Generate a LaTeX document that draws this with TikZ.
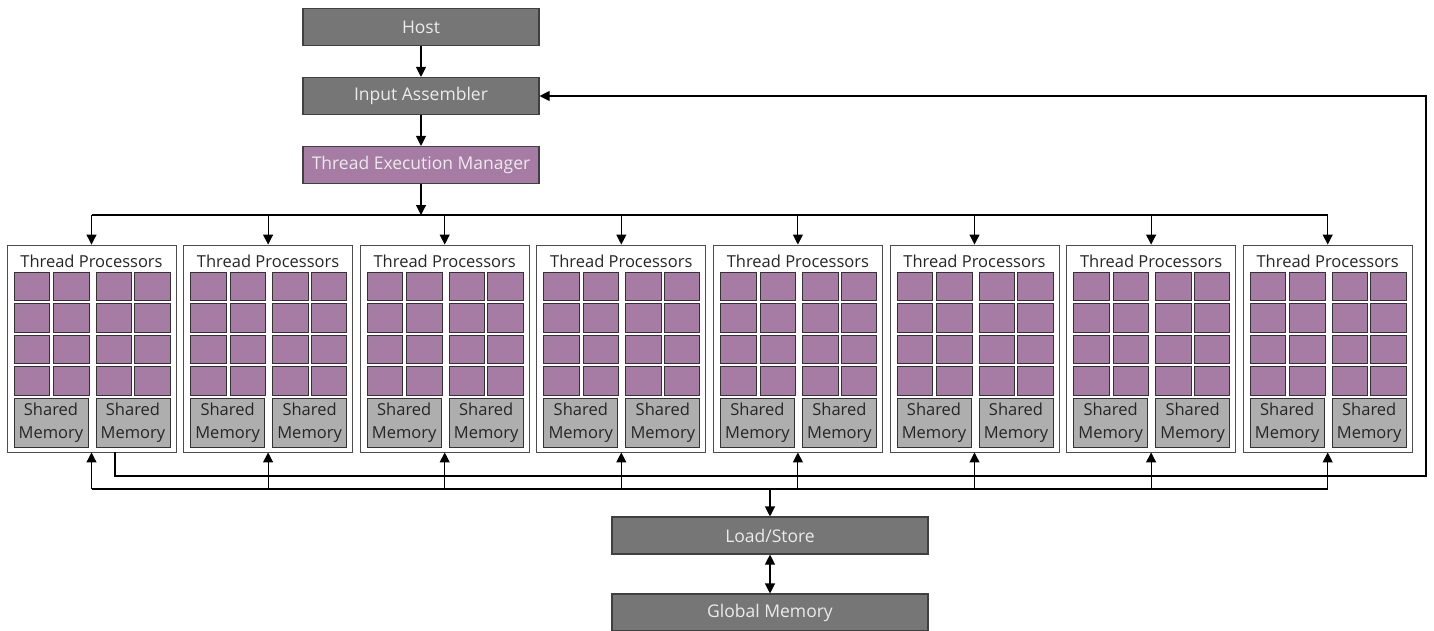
\documentclass[tikz,border=0pt]{standalone}
\usepackage{fontspec}
\setmainfont{Open Sans}
\usetikzlibrary{arrows.meta}
\definecolor{unitgray}{HTML}{767676}
\definecolor{procpurple}{HTML}{A67BA4}
\definecolor{memgray}{HTML}{AEAEAE}

\begin{document}
\begin{tikzpicture}[x=1pt, y=-1pt, line width=1.1pt, >={Triangle[length=10pt,width=10pt]},
    unit/.style={draw=black!75, fill=unitgray, text=white!92!black, inner sep=0pt,
        minimum width=236pt, minimum height=37pt, font=\fontsize{17.5}{20}\selectfont},
    tpbox/.style={draw=black!70, line width=0.9pt, fill=white, inner sep=0pt,
        minimum width=169pt, minimum height=207pt},
    tptitle/.style={inner sep=0pt, text=black!85, font=\fontsize{16.5}{19}\selectfont},
    cell/.style={draw=black!80, line width=0.8pt, fill=procpurple},
    shmem/.style={draw=black!80, line width=0.8pt, fill=memgray, inner sep=0pt, align=center,
        minimum width=74pt, minimum height=49pt, text=black!85,
        font=\fontsize{16.5}{22.5}\selectfont}]
	\useasboundingbox (0,0) rectangle (1434,630);

	\node[unit] (host) at (421,27) {Host};
	\node[unit] (ia) at (421,96) {Input Assembler};
	\node[unit, fill=procpurple] (tem) at (421,165) {Thread Execution Manager};
	\node[unit, minimum width=316pt] (ls) at (770,535.5) {Load/Store};
	\node[unit, minimum width=316pt] (gm) at (770,612.5) {Global Memory};

	\coordinate (dist) at (0,215);
	\coordinate (bus) at (0,489);
	\coordinate (fb) at (1426,476);

	\foreach \i in {0,...,7} {
		\pgfmathsetmacro\cx{91.5+176.6*\i}
		\pgfmathsetmacro\lx{\cx-84.5}
		\node[tpbox] (tp\i) at (\cx,348.5) {};
		\node[tptitle] (title\i) at (\cx,261) {Thread Processors};
		\foreach \ox in {7,46.5,89,127.5} {
			\foreach \oy in {272,303.5,335,366.5} {
				\draw[cell] (\lx+\ox,\oy) rectangle ++(35.5,28.5);
			}
		}
		\node[shmem] (sma\i) at (\lx+44,422.5) {Shared\\Memory};
		\node[shmem] (smb\i) at (\lx+126,422.5) {Shared\\Memory};
	}

	\draw[->] (host) -- (ia);
	\draw[->] (ia) -- (tem);
	\draw[->] (tem.south) -- (tem.south |- dist);
	\draw (tp0.north |- dist) -- (tp7.north |- dist);
	\draw (tp0.south |- bus) -- (tp7.south |- bus);
	\foreach \i in {0,...,7} {
		\draw[->] (tp\i.north |- dist) -- (tp\i.north);
		\draw[->] (tp\i.south |- bus) -- (tp\i.south);
	}
	\draw[->] ([xshift=23.5pt]tp0.south) |- (fb) |- (ia.east);
	\draw[->] (ls.north |- bus) -- (ls.north);
	\draw[<->] (ls) -- (gm);
\end{tikzpicture}
\end{document}
